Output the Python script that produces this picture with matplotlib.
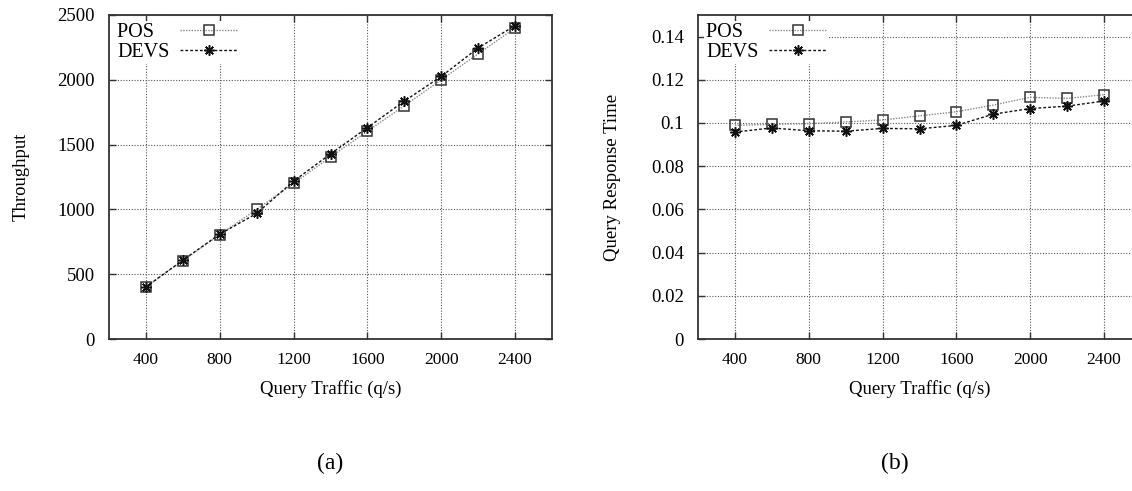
import numpy as np
import matplotlib.pyplot as plt

plt.rcParams['font.family'] = ['Liberation Serif', 'DejaVu Serif']

# Data
traffic = [400, 600, 800, 1000, 1200, 1400, 1600, 1800, 2000, 2200, 2400]
thr_pos = [402, 605, 805, 1000, 1200, 1405, 1603, 1800, 2000, 2200, 2400]
thr_devs = [402, 608, 809, 969, 1218, 1428, 1631, 1836, 2026, 2246, 2418]
rt_pos = [0.0989, 0.0994, 0.0997, 0.1005, 0.1014, 0.1033, 0.1052, 0.1083, 0.1119, 0.1114, 0.1131]
rt_devs = [0.0958, 0.0977, 0.0964, 0.0962, 0.0975, 0.0973, 0.0989, 0.1041, 0.1067, 0.1078, 0.1102]

xticks = [400, 800, 1200, 1600, 2000, 2400]

fig = plt.figure(figsize=(11.32, 4.91), dpi=100)
ax1 = fig.add_axes([109 / 1132, 152 / 491, 443 / 1132, 324 / 491])
ax2 = fig.add_axes([698 / 1132, 152 / 491, 443 / 1132, 324 / 491])


def style_axes(ax):
    ax.set_xlim(200, 2600)
    ax.set_xticks(xticks)
    ax.tick_params(direction='in', top=True, right=True, length=5, width=1, color='#333333')
    ax.tick_params(axis='x', labelsize=12.5, pad=9)
    ax.tick_params(axis='y', labelsize=13.5, pad=10)
    ax.grid(True, linestyle=(0, (1, 1.5)), color='#555555', linewidth=0.8)
    ax.set_axisbelow(True)
    for s in ax.spines.values():
        s.set_linewidth(1.3)
        s.set_color('#333333')
    ax.set_xlabel('Query Traffic (q/s)', fontsize=13.5, labelpad=9)


def draw(ax, pos, devs):
    # trailing spaces keep the two legend labels the same width (left aligned text)
    ax.plot(traffic, pos, color='#888888', linestyle=(0, (1, 1)), linewidth=1,
            marker='s', markersize=6.5, markerfacecolor='none', markeredgecolor='#333333',
            markeredgewidth=1.1, label='POS   ')
    ax.plot(traffic, devs, color='#111111', linestyle=(0, (2, 1.5)), linewidth=1,
            marker=(8, 2, 0), markersize=7.5, markeredgecolor='#111111',
            markeredgewidth=1.1, label='DEVS')
    leg = ax.legend(loc='upper left', markerfirst=False, fontsize=14.5, handlelength=2.9,
                    frameon=True, fancybox=False, borderaxespad=0.3, borderpad=0.1,
                    labelspacing=0.05, handletextpad=0.5)
    leg.get_frame().set_edgecolor('none')
    leg.get_frame().set_facecolor('white')
    leg.get_frame().set_alpha(1)


style_axes(ax1)
draw(ax1, thr_pos, thr_devs)
ax1.set_ylim(0, 2500)
ax1.set_yticks([0, 500, 1000, 1500, 2000, 2500])
ax1.set_ylabel('Throughput', fontsize=13.5, labelpad=20)

style_axes(ax2)
draw(ax2, rt_pos, rt_devs)
ax2.set_ylim(0, 0.15)
ax2.set_yticks([0, 0.02, 0.04, 0.06, 0.08, 0.1, 0.12, 0.14])
ax2.set_yticklabels(['0', '0.02', '0.04', '0.06', '0.08', '0.1', '0.12', '0.14'])
ax2.set_ylabel('Query Response Time', fontsize=13.5, labelpad=22)

fig.text(330 / 1132, 1 - 463 / 491, '(a)', fontsize=17, ha='center', va='center')
fig.text(895 / 1132, 1 - 463 / 491, '(b)', fontsize=17, ha='center', va='center')

fig.savefig('out.png', dpi=100)
